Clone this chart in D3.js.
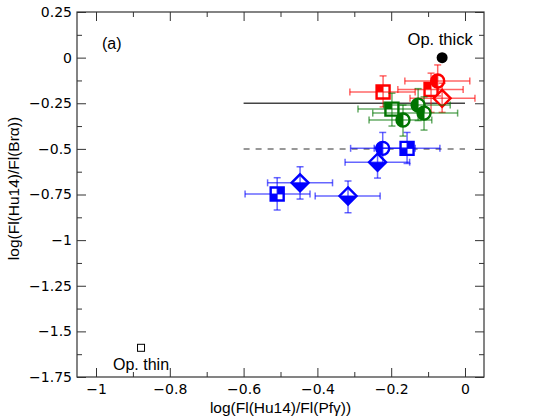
<!DOCTYPE html>
<html>
<head>
<meta charset="utf-8">
<script src="https://cdn.jsdelivr.net/npm/d3@7"></script>
<style>
  body { margin: 0; background: #fff; }
  text { font-family: "Liberation Sans", Arial, sans-serif; }
</style>
</head>
<body>
<div id="chart"></div>
<script>
// data: x = log(Fl(Hu14)/Fl(Pfγ)), y = log(Fl(Hu14)/Fl(Brα))
const redPoints = [
  {marker: "square",  x: -0.222, y: -0.188, xr: [-0.312, -0.135], yr: [-0.27, -0.10]},
  {marker: "square",  x: -0.092, y: -0.174, xr: [-0.182, -0.005], yr: [-0.30, -0.085]},
  {marker: "circle",  x: -0.074, y: -0.128, xr: [-0.163, 0.013],  yr: [-0.21, -0.04]},
  {marker: "diamond", x: -0.062, y: -0.223, xr: [-0.149, 0.027],  yr: [-0.30, -0.14]}
];
const greenPoints = [
  {marker: "square", x: -0.198, y: -0.282, xr: [-0.29, -0.11],  yr: [-0.375, -0.195]},
  {marker: "circle", x: -0.127, y: -0.26,  xr: [-0.22, -0.04],  yr: [-0.345, -0.17]},
  {marker: "circle", x: -0.111, y: -0.304, xr: [-0.25, -0.02],  yr: [-0.397, -0.215]},
  {marker: "circle", x: -0.168, y: -0.342, xr: [-0.26, -0.09],  yr: [-0.43, -0.26]}
];
const bluePoints = [
  {marker: "circle",  x: -0.223, y: -0.497, xr: [-0.31, -0.135],  yr: [-0.58, -0.41]},
  {marker: "square",  x: -0.157, y: -0.497, xr: [-0.246, -0.068], yr: [-0.58, -0.41]},
  {marker: "diamond", x: -0.237, y: -0.573, xr: [-0.325, -0.15],  yr: [-0.66, -0.49]},
  {marker: "diamond", x: -0.447, y: -0.686, xr: [-0.535, -0.359], yr: [-0.775, -0.598]},
  {marker: "square",  x: -0.509, y: -0.747, xr: [-0.596, -0.42],  yr: [-0.835, -0.658]},
  {marker: "diamond", x: -0.317, y: -0.758, xr: [-0.406, -0.23],  yr: [-0.85, -0.676]}
];
const opThick = {x: -0.062, y: 0.0, label: "Op. thick"};
const opThin = {x: -0.878, y: -1.59, label: "Op. thin"};
const refLevels = [-0.25, -0.5];
const refStart = -0.6, refEnd = 0;
const xTicks = [-1, -0.8, -0.6, -0.4, -0.2, 0];
const yTicks = [0.25, 0, -0.25, -0.5, -0.75, -1, -1.25, -1.5, -1.75];

const W = 538, H = 419;
const margin = {top: 12, right: 54, bottom: 42, left: 77};
const iw = W - margin.left - margin.right, ih = H - margin.top - margin.bottom;

const svg = d3.select("#chart").append("svg").attr("width", W).attr("height", H);
const g = svg.append("g").attr("transform", "translate(" + margin.left + "," + margin.top + ")");

const x = d3.scaleLinear().domain([-1.0515, 0.0515]).range([0, iw]);
const y = d3.scaleLinear().domain([-1.75, 0.25]).range([ih, 0]);

const fmt = v => (v < 0 ? "\u2212" : "") + String(+Math.abs(v).toFixed(2));
const xMinor = d3.range(-1, 0.01, 0.1).map(v => +v.toFixed(2)).filter(v => !xTicks.includes(v));
const yMinor = d3.range(-1.625, 0.25, 0.25).map(v => +v.toFixed(3));

// axes (ticks point inwards, mirrored on top and right)
const axisColor = "#333";
function drawAxis(axis, tx, ty) {
  const a = g.append("g").attr("transform", "translate(" + tx + "," + ty + ")").call(axis);
  a.select(".domain").remove();
  a.selectAll("line").attr("stroke", axisColor);
  a.selectAll("text").attr("font-size", 14).attr("fill", "#000")
    .style("font-family", "'DejaVu Sans', sans-serif");
  return a;
}
drawAxis(d3.axisBottom(x).tickValues(xTicks).tickSize(-9).tickPadding(7).tickFormat(fmt), 0, ih);
drawAxis(d3.axisBottom(x).tickValues(xMinor).tickSize(-5).tickFormat(""), 0, ih);
drawAxis(d3.axisTop(x).tickValues(xTicks).tickSize(-9).tickFormat(""), 0, 0);
drawAxis(d3.axisTop(x).tickValues(xMinor).tickSize(-5).tickFormat(""), 0, 0);
drawAxis(d3.axisLeft(y).tickValues(yTicks).tickSize(-9).tickPadding(5).tickFormat(fmt), 0, 0);
drawAxis(d3.axisLeft(y).tickValues(yMinor).tickSize(-5).tickFormat(""), 0, 0);
drawAxis(d3.axisRight(y).tickValues(yTicks).tickSize(-9).tickFormat(""), iw, 0);
drawAxis(d3.axisRight(y).tickValues(yMinor).tickSize(-5).tickFormat(""), iw, 0);

g.append("rect").attr("width", iw).attr("height", ih)
  .attr("fill", "none").attr("stroke", axisColor).attr("stroke-width", 1.2);

// reference lines
g.selectAll(".ref").data(refLevels).enter().append("line")
  .attr("x1", x(refStart)).attr("x2", x(refEnd))
  .attr("y1", d => y(d)).attr("y2", d => y(d))
  .attr("stroke", (d, i) => i === 0 ? "#444" : "#777")
  .attr("stroke-width", 1.5)
  .attr("stroke-dasharray", (d, i) => i === 0 ? null : "6,6");

// markers with partial fills
const series = [
  {data: redPoints,   color: "#ff0000", fills: {square: "tl", circle: "left", diamond: "none"}},
  {data: greenPoints, color: "#007400", fills: {square: "tl", circle: "left", diamond: "none"}},
  {data: bluePoints,  color: "#0000ff", fills: {square: "trbl", circle: "left", diamond: "bottom"}}
];

function outline(shape) {
  if (shape === "square") return "M-6.5,-6.5H6.5V6.5H-6.5Z";
  if (shape === "circle") return "M-6.5,0A6.5,6.5 0 1,1 6.5,0A6.5,6.5 0 1,1 -6.5,0Z";
  return "M0,-8.5L8.5,0L0,8.5L-8.5,0Z";
}
function partial(shape, kind) {
  if (kind === "none") return "";
  if (shape === "square") {
    if (kind === "tl") return "M-6.5,-6.5H0V0H-6.5Z";
    return "M0,-6.5H6.5V0H0ZM-6.5,0H0V6.5H-6.5Z";
  }
  if (shape === "circle") return "M0,-6.5A6.5,6.5 0 0,0 0,6.5Z";
  return "M-8.5,0L8.5,0L0,8.5Z";
}

series.forEach(s => {
  const pts = g.append("g");
  const m = pts.selectAll("g.pt").data(s.data).enter().append("g")
    .attr("transform", d => "translate(" + x(d.x) + "," + y(d.y) + ")");
  m.append("path").attr("d", d => outline(d.marker))
    .attr("fill", "#fff").attr("stroke", s.color).attr("stroke-width", 2.4);
  m.append("path").attr("d", d => partial(d.marker, s.fills[d.marker]))
    .attr("fill", s.color);

  // error bars on top, semi-transparent
  const eb = pts.append("g").attr("stroke", s.color).attr("stroke-opacity", 0.6).attr("stroke-width", 1.5);
  const cap = 3.5;
  s.data.forEach(d => {
    const cx = x(d.x), cy = y(d.y);
    const x0 = x(d.xr[0]), x1 = x(d.xr[1]);
    const y0 = y(d.yr[0]), y1 = y(d.yr[1]);
    eb.append("line").attr("x1", x0).attr("x2", x1).attr("y1", cy).attr("y2", cy);
    eb.append("line").attr("x1", cx).attr("x2", cx).attr("y1", y0).attr("y2", y1);
    [x0, x1].forEach(xx => eb.append("line").attr("x1", xx).attr("x2", xx).attr("y1", cy - cap).attr("y2", cy + cap));
    [y0, y1].forEach(yy => eb.append("line").attr("x1", cx - cap).attr("x2", cx + cap).attr("y1", yy).attr("y2", yy));
  });
});

// optically thick / thin limits
g.append("circle").attr("cx", x(opThick.x)).attr("cy", y(opThick.y)).attr("r", 5.5).attr("fill", "#000");
g.append("text").attr("x", x(opThick.x) - 2).attr("y", y(opThick.y) - 13)
  .attr("text-anchor", "middle").attr("font-size", 16.5).text(opThick.label);
g.append("rect").attr("x", x(opThin.x) - 3.5).attr("y", y(opThin.y) - 3.5)
  .attr("width", 7).attr("height", 7).attr("fill", "#fff").attr("stroke", "#000").attr("stroke-width", 1);
g.append("text").attr("x", x(opThin.x)).attr("y", y(opThin.y) + 22)
  .attr("text-anchor", "middle").attr("font-size", 16).text(opThin.label);

g.append("text").attr("x", 25).attr("y", 37).attr("font-size", 16).text("(a)");

// axis titles
svg.append("text").attr("x", margin.left + iw / 2).attr("y", 413)
  .attr("text-anchor", "middle").attr("font-size", 15.5).text("log(Fl(Hu14)/Fl(Pfγ))");
svg.append("text").attr("transform", "translate(19," + (margin.top + ih / 2 - 6) + ") rotate(-90)")
  .attr("text-anchor", "middle").attr("font-size", 15.5).text("log(Fl(Hu14)/Fl(Brα))");
</script>
</body>
</html>
